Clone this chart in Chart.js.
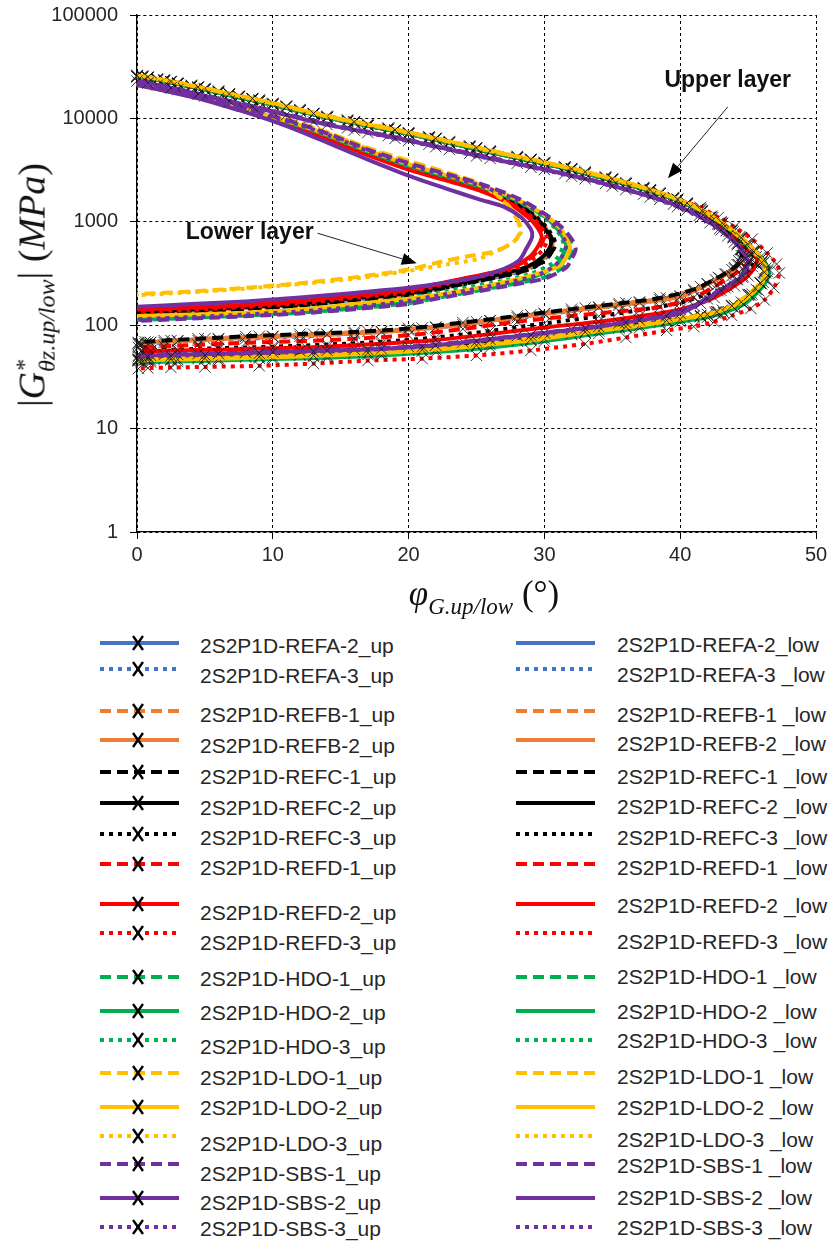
<!DOCTYPE html>
<html lang="en">
<head>
<meta charset="UTF-8">
<title>2S2P1D – upper and lower layer in Black space</title>
<script src="https://cdn.jsdelivr.net/npm/chart.js"></script>
<style>
  body { margin: 0; background: #fff; width: 834px; height: 1243px; position: relative; overflow: hidden;
         font-family: 'Liberation Sans', Arial, sans-serif; }
  #chartBox { position: absolute; left: 0; top: 0; width: 834px; height: 580px; }
  /* axis titles (math style) */
  .ytitle { position: absolute; left: 34px; top: 285px; transform: translate(-50%, -50%) rotate(-90deg);
            white-space: nowrap; font-family: 'Liberation Serif', serif; font-size: 38px; color: #111; }
  .ytitle .stack { display: inline-block; vertical-align: -0.42em; line-height: 0.95; font-size: 24px; font-style: italic; }
  .ytitle .stack span { display: block; }
  .xtitle { position: absolute; left: 484px; top: 597px; transform: translate(-50%, -50%);
            white-space: nowrap; font-family: 'Liberation Serif', serif; font-size: 35px; color: #111; }
  .xtitle sub { font-size: 23px; font-style: italic; vertical-align: -0.35em; }
  /* legend */
  .leg-line { position: absolute; }
  .leg-text { position: absolute; font-size: 21px; color: #262626; line-height: 24px; white-space: nowrap; transform: translateY(-50%); }
</style>
</head>
<body>

<div id="chartBox"><canvas id="blackSpace" width="834" height="580"></canvas></div>

<div class="ytitle">|<i>G</i><span class="stack"><span>*</span><span>θz.up/low</span></span>| (<i>MPa</i>)</div>
<div class="xtitle"><i>φ</i><sub>G.up/low</sub> (°)</div>

<div id="legend"></div>

<script>
// ---- data: [phase angle (°), |G*| (MPa)] ----
// upper layer (with markers)
const refA2Up = [[0,25500],[1.5,23600],[3,21600],[5,19000],[7.5,16000],[10,13600],[14,10200],[17,8500],[20,7100],[23,5800],[26,4700],[30,3650],[33,2950],[36,2320],[38.5,1850],[40.5,1480],[42.2,1100],[43.4,820],[44.2,620],[44.5,470],[44.2,385],[43.3,312],[42,252],[40,192],[37,168],[34,150],[30,130],[26,111],[22,96],[18,87],[14,82],[10,78],[6,74],[3,71],[1,68],[0.3,66]];
const refA3Up = [[0.4,24900],[2,22800],[4,20200],[6,17700],[9,14500],[12,11750],[15.5,9300],[18.5,7800],[21.5,6400],[24.5,5230],[28,4130],[31.5,3280],[34.5,2620],[37.3,2070],[39.5,1660],[41.3,1300],[42.8,950],[43.9,700],[44.4,540],[44.3,420],[43.8,345],[42.6,275],[41,215],[38.5,176],[35.5,156],[32,137],[28,118],[24,101],[20,90],[16,83],[12,78],[8,74],[4.5,71],[2,68],[0.6,66],[0.1,65]];
const refB1Up = [[0.8,24800],[2.5,22500],[4.5,19900],[6.8,17100],[8.5,15400],[11,13000],[13,11050],[16,9150],[19,7650],[22,6320],[25,5120],[29,3960],[32,3200],[35,2540],[37.8,1990],[39.8,1610],[41.6,1250],[42.9,940],[43.9,720],[44.5,540],[44.6,430],[44,350],[42.9,285],[41.5,236],[39,183],[36,164],[33,147],[29,126],[25,108],[21,94],[17,87],[13,82],[9,78],[5,74],[2.5,71],[0.8,68.5],[0.1,67]];
const refB2Up = [[0,25600],[1.5,23700],[3,21700],[5,19100],[7.5,16100],[10,13700],[14,10250],[17,8550],[20,7150],[23,5850],[26,4750],[30,3680],[33,2960],[36,2330],[38.5,1860],[40.5,1485],[42.2,1105],[43.4,825],[44.3,625],[44.6,470],[44.3,385],[43.4,313],[42,250],[40,188],[37,165],[34,148],[30,128],[26,110],[22,95],[18,86],[14,81],[10,77],[6,73],[3,70],[1,68],[0.3,66]];
const refC1Up = [[0.4,25500],[2,23400],[4,20800],[6,18200],[9,14900],[12,12100],[15.5,9550],[18.5,8000],[21.5,6600],[24.5,5380],[28,4250],[31.5,3370],[34.5,2690],[37.3,2120],[39.5,1700],[41.3,1320],[42.8,970],[43.9,720],[44.5,550],[44.5,430],[44,360],[42.8,290],[41,222],[38.5,183],[35.5,162],[32,143],[28,123],[24,106],[20,93],[16,86],[12,82],[8,78],[4.5,74],[2,71],[0.6,69],[0.1,68]];
const refC2Up = [[0.8,24800],[2.5,22500],[4.5,19850],[6.8,17050],[8.5,15300],[11,12900],[13,11000],[16,9100],[19,7600],[22,6300],[25,5100],[29,3950],[32,3200],[35,2550],[37.8,2000],[39.8,1620],[41.6,1260],[43.1,960],[44.5,700],[45.5,520],[46.2,410],[46.4,330],[46.1,260],[45.3,200],[44,155],[42.8,135],[41.5,123],[39,110],[36,97],[33,86],[29,73],[25,65],[21,59],[17,55],[13,52],[9,50],[5,48.5],[2.5,47.5],[0.8,47],[0.1,46.5]];
const refC3Up = [[0,25400],[1.5,23500],[3,21500],[5,18950],[7.5,16000],[10,13600],[14,10150],[17,8500],[20,7100],[23,5800],[26,4720],[30,3640],[33,2940],[36,2310],[38.5,1850],[40.5,1470],[42.2,1090],[43.6,810],[44.8,600],[45.4,460],[45.3,370],[44.6,290],[43.5,235],[42,200],[40,165],[37,140],[34,122],[30,104],[26,88],[22,76],[18,69],[14,65],[10,62],[6,60],[3,58],[1,57],[0.3,56]];
const refD1Up = [[0.4,25000],[2,22900],[4,20300],[6,17800],[9,14600],[12,11800],[15.5,9350],[18.5,7820],[21.5,6430],[24.5,5250],[28,4150],[31.5,3290],[34.5,2630],[37.3,2080],[39.5,1670],[41.3,1310],[42.9,960],[44.1,710],[44.9,540],[45.2,440],[44.7,365],[43.8,300],[42.7,245],[41,185],[38.5,150],[35.5,136],[32,123],[28,108],[24,92],[20,80],[16,74],[12,70],[8,67.5],[4.5,64.5],[2,62.5],[0.6,61.5],[0.1,61]];
const refD2Up = [[0,25600],[1.5,23700],[3,21700],[5,19100],[7.5,16100],[10,13700],[14,10250],[17,8550],[20,7150],[23,5850],[26,4760],[30,3680],[33,2970],[36,2330],[38.5,1860],[40.5,1490],[42.3,1110],[43.8,815],[45,600],[45.6,460],[45.6,390],[45,300],[44,240],[42.5,185],[40,142],[37,122],[34,108],[30,95],[26,82],[22,72],[18,66],[14,62],[10,60],[6,58],[3,57],[1,56],[0.3,56]];
const refD3Up = [[0.8,24900],[2.5,22600],[4.5,20000],[6.8,17200],[8.5,15500],[11,13100],[13,11150],[16,9250],[19,7700],[22,6400],[25,5200],[29,4020],[32,3270],[35,2600],[37.8,2050],[39.8,1650],[41.5,1380],[42.8,1100],[44,890],[45.3,680],[46.4,500],[47.1,390],[47.3,320],[46.9,230],[46.2,175],[45.2,145],[43.8,124],[42.5,108],[41,97],[39,89],[36,76],[33,66],[29,57],[25,51],[21,47.5],[17,45.5],[13,42.5],[9,40.5],[5,39.5],[2.5,39],[0.8,38.5],[0.1,38]];
const hdo1Up = [[0.4,25100],[2,23000],[4,20400],[6,17900],[9,14600],[12,11850],[15.5,9350],[18.5,7850],[21.5,6450],[24.5,5270],[28,4170],[31.5,3310],[34.5,2640],[37.3,2090],[39.5,1680],[41.5,1300],[43,980],[44.4,700],[45.4,520],[46,410],[46.2,330],[45.9,255],[45,195],[43.8,152],[42.6,131],[41,120],[38.5,106],[35.5,94],[32,81],[28,70],[24,62],[20,57],[16,53],[12,51],[8,49],[4.5,47.5],[2,46.7],[0.6,46.2],[0.1,46]];
const hdo2Up = [[0,25500],[1.5,23600],[3,21600],[5,19000],[7.5,16000],[10,13600],[14,10200],[17,8500],[20,7100],[23,5820],[26,4730],[30,3660],[33,2960],[36,2330],[38.5,1860],[40.5,1480],[42.4,1100],[43.9,800],[45.1,590],[46,445],[46.5,350],[46.4,275],[45.8,215],[44.7,160],[43.2,132],[42,119],[40,108],[37,94],[34,83],[30,70],[26,61],[22,55],[18,51],[14,48.5],[10,47],[6,45.5],[3,44.5],[1,44],[0.3,43.5]];
const hdo3Up = [[0.8,24700],[2.5,22400],[4.5,19800],[6.8,17000],[8.5,15300],[11,12900],[13,11000],[16,9100],[19,7600],[22,6300],[25,5100],[29,3950],[32,3200],[35,2550],[37.8,2000],[39.8,1620],[41.6,1260],[43.1,960],[44.5,690],[45.5,510],[46.1,400],[46.3,320],[46,250],[45.2,195],[43.9,150],[42.8,132],[41.5,121],[39,108],[36,95],[33,84],[29,71],[25,62.5],[21,56],[17,52],[13,49.5],[9,48],[5,46.8],[2.5,45.9],[0.8,45.3],[0.1,45]];
const ldo1Up = [[0.4,25700],[2,23600],[4,20900],[6,18400],[9,15100],[12,12200],[15.5,9650],[18.5,8080],[21.5,6650],[24.5,5420],[28,4290],[31.5,3400],[34.5,2720],[37.3,2150],[39.5,1720],[41.5,1330],[43,1000],[44.4,720],[45.4,530],[46,415],[46.2,335],[45.9,258],[45,198],[43.8,155],[42.6,134],[41,123],[38.5,109],[35.5,96],[32,83],[28,71],[24,63],[20,58],[16,54.5],[12,52],[8,50],[4.5,48.5],[2,47.8],[0.6,47.2],[0.1,47]];
const ldo2Up = [[0,26000],[1.5,24100],[3,22100],[5,19500],[7.5,16500],[10,14000],[14,10500],[17,8750],[20,7300],[23,5980],[26,4860],[30,3760],[33,3050],[36,2400],[38.5,1910],[40.5,1520],[42.3,1130],[43.8,830],[45,605],[45.9,455],[46.3,355],[46.2,280],[45.6,222],[44.5,167],[43.1,140],[42,127],[40,114],[37,99],[34,88],[30,74],[26,65],[22,58],[18,54],[14,51],[10,49],[6,47.5],[3,46.5],[1,46],[0.3,45.5]];
const ldo3Up = [[0.8,25100],[2.5,22750],[4.5,20100],[6.8,17250],[8.5,15550],[11,13100],[13,11150],[16,9250],[19,7720],[22,6400],[25,5180],[29,4010],[32,3250],[35,2590],[37.8,2030],[39.8,1650],[41.6,1280],[43.1,970],[44.5,700],[45.4,515],[46,405],[46.2,325],[45.9,255],[45.1,198],[43.8,154],[42.7,135],[41.5,124],[39,111],[36,97],[33,86],[29,73],[25,64],[21,58],[17,54],[13,51],[9,49.5],[5,48],[2.5,47],[0.8,46.4],[0.1,46]];
const sbs1Up = [[0.4,22800],[2,20600],[4,18000],[6,15600],[9,12700],[12,10200],[15.5,8100],[18.5,6800],[21.5,5620],[24.5,4600],[28,3680],[31.5,2920],[34.5,2350],[37.3,1850],[39.5,1480],[41.4,1150],[42.9,860],[44,640],[44.8,470],[44.9,360],[44.2,280],[42.8,215],[41,155],[38.5,122],[35.5,105],[32,91],[28,79],[24,69],[20,62],[16,58.5],[12,56.5],[8,54.5],[4.5,53],[2,52],[0.6,51.3],[0.1,51]];
const sbs2Up = [[0,23000],[1.5,21000],[3,19000],[5,16500],[7.5,13800],[10,11600],[14,8700],[17,7300],[20,6100],[23,5000],[26,4100],[30,3200],[33,2600],[36,2050],[38.5,1650],[40.5,1300],[42.2,980],[43.5,730],[44.5,540],[45,400],[44.6,300],[43.3,230],[42,180],[40,130],[37,112],[34,97],[30,84],[26,73],[22,64],[18,59],[14,57],[10,55],[6,53],[3,52],[1,51],[0.3,50]];
const sbs3Up = [[0.8,22000],[2.5,19700],[4.5,17150],[6.8,14700],[8.5,13100],[11,10850],[13,9250],[16,7700],[19,6400],[22,5320],[25,4330],[29,3380],[32,2760],[35,2210],[37.8,1740],[39.8,1400],[41.5,1100],[43,830],[44.2,600],[44.8,445],[44.8,365],[44.2,275],[43,217],[41.5,162],[39,123],[36,106],[33,93],[29,80],[25,70],[21,62],[17,58],[13,55.5],[9,53.5],[5,51.5],[2.5,50.5],[0.8,49.8],[0.1,49.5]];

// lower layer (no markers)
const refA2Low = [[0,21400],[2,18900],[5,15400],[7.5,12400],[10,9900],[12,8200],[14.2,6400],[17,4600],[20,3350],[23,2580],[25.2,2100],[28,1490],[29.5,1060],[30.3,790],[30.6,630],[30.3,500],[29.5,400],[28.4,343],[26.9,305],[24,255],[20,200],[16,178],[12,158],[8,147],[4,139],[0,133]];
const refA3Low = [[0,21450],[2,18950],[5,15450],[7.5,12450],[10,9950],[12,8250],[14.2,6450],[17,4620],[20,3360],[23,2590],[25.2,2110],[28,1495],[29.5,1055],[30.3,785],[30.7,615],[30.4,490],[29.6,395],[28.5,338],[27,302],[24,252],[20,198],[16,176],[12,157],[8,146],[4,138],[0,132]];
const refB1Low = [[0,21350],[2,18850],[5,15350],[7.5,12350],[10,9850],[12,8150],[14.2,6350],[17,4560],[20,3320],[23,2560],[25.2,2080],[28,1480],[29.4,1070],[30.2,800],[30.5,640],[30.2,505],[29.4,405],[28.3,346],[26.8,308],[24,258],[20,202],[16,180],[12,160],[8,148],[4,140],[0,134]];
const refB2Low = [[0,21400],[2,18900],[5,15400],[7.5,12400],[10,9900],[12,8200],[14.2,6400],[17,4590],[20,3340],[23,2570],[25.2,2090],[28,1485],[29.5,1065],[30.3,795],[30.6,632],[30.3,502],[29.5,402],[28.4,344],[26.9,306],[24,256],[20,201],[16,179],[12,159],[8,147],[4,139],[0,133]];
const refC1Low = [[0,21500],[2,19000],[5,15500],[7.5,12500],[10,10000],[12,8300],[14.2,6500],[17,4650],[20,3380],[23,2600],[25.2,2120],[28,1500],[29.5,1050],[30.3,780],[30.7,600],[30.4,480],[29.6,390],[28.5,335],[27,300],[24,250],[20,196],[16,175],[12,155],[8,145],[4,137],[0,131]];
const refC2Low = [[0,21400],[2,18900],[5,15400],[7.5,12400],[10,9900],[12,8200],[14.2,6400],[17,4580],[20,3330],[23,2560],[25.2,2090],[28,1480],[29.4,1060],[30.2,800],[30.5,640],[30.2,510],[29.4,410],[28.3,350],[26.8,312],[24,262],[20,205],[16,182],[12,162],[8,150],[4,142],[0,136]];
const refC3Low = [[0,21500],[2,19000],[5,15500],[7.5,12500],[10,10000],[12,8300],[14.2,6500],[17,4650],[20,3380],[23,2600],[25.2,2130],[28,1510],[29.6,1060],[30.4,800],[30.8,620],[30.5,495],[29.8,400],[28.7,340],[27.2,303],[24.2,252],[20,198],[16,176],[12,156],[8,144],[4,135],[0,128]];
const refD1Low = [[0,21300],[2,18800],[5,15300],[7.5,12300],[10,9800],[12,8100],[14.2,6300],[17,4500],[20,3250],[23,2500],[25.2,2050],[27.5,1500],[28.8,1150],[29.4,980],[29.9,800],[30,720],[29.7,580],[29.1,460],[28,380],[26.5,330],[24,280],[20,218],[16,190],[12,168],[8,155],[4,146],[0,140]];
const refD2Low = [[0,21200],[2,18700],[5,15200],[7.5,12200],[10,9700],[12,8000],[14.2,6200],[17,4420],[20,3200],[23,2460],[25.2,2010],[27.5,1480],[28.7,1130],[29.3,950],[29.7,790],[29.8,700],[29.5,570],[28.9,455],[27.8,375],[26.3,326],[24,282],[20,222],[16,194],[12,172],[8,158],[4,149],[0,142]];
const refD3Low = [[0,21300],[2,18800],[5,15300],[7.5,12300],[10,9800],[12,8100],[14.2,6300],[17,4500],[20,3260],[23,2510],[25.2,2060],[27.8,1480],[29.2,1080],[29.9,830],[30.2,680],[29.9,545],[29.2,440],[28.2,370],[26.7,324],[24,272],[20,210],[16,184],[12,163],[8,150],[4,141],[0,135]];
const hdo1Low = [[0,21900],[2,19400],[5,15900],[7.5,12900],[10,10400],[12,8700],[14.2,6900],[17,4950],[20,3650],[23,2820],[25.2,2320],[28,1680],[30,1190],[31.2,870],[31.9,650],[32.1,545],[31.8,445],[31.4,365],[30,290],[28,255],[26.8,238],[24.4,208],[22,183],[20,163],[16,145],[12,132],[8,124],[4,118],[0,112]];
const hdo2Low = [[0,21700],[2,19200],[5,15700],[7.5,12700],[10,10200],[12,8500],[14.2,6700],[17,4800],[20,3500],[23,2700],[25.2,2220],[28,1600],[30,1130],[31,840],[31.5,650],[31.6,575],[31.3,460],[30.8,375],[29.4,300],[27.4,258],[25,222],[22,190],[20,170],[16,148],[12,134],[8,125],[4,119],[0,115]];
const hdo3Low = [[0,21600],[2,19100],[5,15600],[7.5,12600],[10,10100],[12,8400],[14.2,6650],[17,4750],[20,3450],[23,2680],[25.2,2200],[28,1580],[30,1100],[30.9,830],[31.3,680],[31.4,600],[31.1,480],[30.5,390],[29,315],[27,270],[24.5,235],[22,205],[20,185],[16,160],[12,142],[8,131],[4,124],[0,118]];
const ldo1Low = [[0,22200],[2,19700],[5,16200],[7.5,13200],[10,10700],[12,9000],[14.2,7200],[17,5200],[20,3900],[23,2950],[25.2,2350],[26.8,1700],[27.7,1250],[28.1,980],[28.2,800],[27.8,650],[27,560],[26,505],[24.2,460],[22,400],[20,345],[16,290],[12,255],[8,230],[4,212],[0,200]];
const ldo2Low = [[0,21800],[2,19300],[5,15800],[7.5,12800],[10,10300],[12,8600],[14.2,6850],[17,4900],[20,3600],[23,2780],[25.2,2280],[28,1650],[30,1170],[31.2,860],[31.7,660],[31.9,560],[31.6,450],[31.2,380],[30,330],[28.5,290],[27,260],[24,215],[20,180],[16,160],[12,142],[8,132],[4,127],[0,123]];
const ldo3Low = [[0,22100],[2,19600],[5,16100],[7.5,13100],[10,10600],[12,8900],[14.2,7100],[17,5100],[20,3800],[23,2900],[25.2,2300],[26.8,1680],[27.6,1250],[28.1,1000],[28.3,830],[28,690],[27.2,580],[26.2,500],[25.2,440],[23,390],[20,335],[16,282],[12,250],[8,226],[4,208],[0,195]];
const sbs1Low = [[0,22000],[2,19500],[5,16000],[7.5,13000],[10,10500],[12,8800],[14.2,7000],[17,5000],[20,3700],[23,2850],[25.2,2350],[28,1700],[30,1200],[31.3,880],[32.1,650],[32.3,540],[32,440],[31.6,360],[30.1,285],[28,250],[26.9,235],[24.4,205],[22,180],[20,160],[16,143],[12,130],[8,122],[4,116],[0,110]];
const sbs2Low = [[0,21000],[2,18500],[5,15000],[7.5,12000],[10,9400],[12,7500],[14.2,5700],[17,4000],[20,2800],[23,2050],[25.2,1650],[27,1400],[28.3,1100],[29,850],[29.1,720],[28.7,560],[28.1,420],[26.5,330],[24.4,280],[22,250],[20,230],[16,205],[12,185],[8,170],[4,160],[0,151]];
const sbs3Low = [[0,21800],[2,19300],[5,15800],[7.5,12800],[10,10300],[12,8600],[14.2,6800],[17,4850],[20,3550],[23,2750],[25.2,2250],[28,1620],[30,1150],[31,850],[31.5,660],[31.6,575],[31.3,465],[30.8,380],[29.5,305],[27.5,262],[25,225],[22,192],[20,172],[16,150],[12,136],[8,127],[4,120],[0,114]];

const upSeries  = [refA2Up, refA3Up, refB1Up, refB2Up, refC1Up, refC2Up, refC3Up, refD1Up, refD2Up, refD3Up,
                   hdo1Up, hdo2Up, hdo3Up, ldo1Up, ldo2Up, ldo3Up, sbs1Up, sbs2Up, sbs3Up];
const lowSeries = [refA2Low, refA3Low, refB1Low, refB2Low, refC1Low, refC2Low, refC3Low, refD1Low, refD2Low, refD3Low,
                   hdo1Low, hdo2Low, hdo3Low, ldo1Low, ldo2Low, ldo3Low, sbs1Low, sbs2Low, sbs3Low];

const upLabels = ['2S2P1D-REFA-2_up','2S2P1D-REFA-3_up','2S2P1D-REFB-1_up','2S2P1D-REFB-2_up','2S2P1D-REFC-1_up',
  '2S2P1D-REFC-2_up','2S2P1D-REFC-3_up','2S2P1D-REFD-1_up','2S2P1D-REFD-2_up','2S2P1D-REFD-3_up','2S2P1D-HDO-1_up',
  '2S2P1D-HDO-2_up','2S2P1D-HDO-3_up','2S2P1D-LDO-1_up','2S2P1D-LDO-2_up','2S2P1D-LDO-3_up','2S2P1D-SBS-1_up',
  '2S2P1D-SBS-2_up','2S2P1D-SBS-3_up'];
const lowLabels = ['2S2P1D-REFA-2_low','2S2P1D-REFA-3 _low','2S2P1D-REFB-1 _low','2S2P1D-REFB-2 _low','2S2P1D-REFC-1 _low',
  '2S2P1D-REFC-2 _low','2S2P1D-REFC-3 _low','2S2P1D-REFD-1 _low','2S2P1D-REFD-2 _low','2S2P1D-REFD-3 _low','2S2P1D-HDO-1 _low',
  '2S2P1D-HDO-2 _low','2S2P1D-HDO-3 _low','2S2P1D-LDO-1 _low','2S2P1D-LDO-2 _low','2S2P1D-LDO-3 _low','2S2P1D-SBS-1 _low',
  '2S2P1D-SBS-2 _low','2S2P1D-SBS-3 _low'];

const xTickStep = 10;
const yTickValues = [1, 10, 100, 1000, 10000, 100000];

// ---- styles ----
const BLUE = '#4472C4', ORANGE = '#ED7D31', BLACK = '#000000', RED = '#FF0000',
      GREEN = '#00B050', YELLOW = '#FFC000', PURPLE = '#7030A0';
const seriesColors = [BLUE, BLUE, ORANGE, ORANGE, BLACK, BLACK, BLACK, RED, RED, RED,
                      GREEN, GREEN, GREEN, YELLOW, YELLOW, YELLOW, PURPLE, PURPLE, PURPLE];
const seriesStyles = ['solid','dotted','dashed','solid','dashed','solid','dotted','dashed','solid','dotted',
                      'dashed','solid','dotted','dashed','solid','dotted','dashed','solid','dotted'];
const dashPatterns = { solid: [], dashed: [11, 6], dotted: [4, 5] };

// legend row positions (px)
const legendLineY  = [643, 669, 711, 740, 772, 803, 834, 864, 904, 933, 977, 1011, 1040, 1073, 1107, 1136, 1164, 1198, 1227];
const legendTextY  = [646, 676, 715, 746, 777, 808, 838, 868, 913, 943, 979, 1013, 1047, 1078, 1108, 1144, 1174, 1203, 1229];
const rightTextY   = [645, 675, 715, 744, 777, 807, 838, 868, 906, 942, 977, 1012, 1041, 1077, 1108, 1140, 1166, 1198, 1228];

// annotation text and arrows, in data units
const layerNotes = [
  { text: 'Upper layer', at: [43.5, 23000], tail: [43.5, 12900], head: [39.1, 2640] },
  { text: 'Lower layer', at: [8.3, 780], tail: [13.3, 775], head: [20.6, 397] }
];

// ---- datasets (later entries drawn on top) ----
const datasets = [];
upSeries.forEach((d, i) => {
  const base = { showLine: true, fill: false, borderWidth: 4, tension: 0.3,
                 borderColor: seriesColors[i], backgroundColor: seriesColors[i],
                 borderDash: dashPatterns[seriesStyles[i]], clip: 10 };
  datasets.push(Object.assign({}, base, {
    label: upLabels[i], data: d,
    pointStyle: 'crossRot', pointRadius: 8, pointBorderWidth: 1,
    pointBorderColor: 'rgba(20,20,20,0.85)', pointBackgroundColor: 'rgba(20,20,20,0.85)'
  }));
  datasets.push(Object.assign({}, base, {
    label: lowLabels[i], data: lowSeries[i], pointRadius: 0
  }));
});
datasets.forEach((ds, k) => { ds.order = datasets.length - k; });

// arrows + labels
const layerNotesPlugin = {
  id: 'layerNotes',
  afterDatasetsDraw(chart) {
    const { ctx, scales: { x, y } } = chart;
    ctx.save();
    layerNotes.forEach(n => {
      const tx = x.getPixelForValue(n.at[0]), ty = y.getPixelForValue(n.at[1]);
      const x1 = x.getPixelForValue(n.tail[0]), y1 = y.getPixelForValue(n.tail[1]);
      const x2 = x.getPixelForValue(n.head[0]), y2 = y.getPixelForValue(n.head[1]);
      ctx.font = 'bold 23px "Liberation Sans", Arial, sans-serif';
      ctx.fillStyle = '#111';
      ctx.textAlign = 'center';
      ctx.textBaseline = 'middle';
      ctx.fillText(n.text, tx, ty);
      const ang = Math.atan2(y2 - y1, x2 - x1);
      const hl = 15, hw = 6;
      ctx.strokeStyle = '#222';
      ctx.lineWidth = 1;
      ctx.beginPath();
      ctx.moveTo(x1, y1);
      ctx.lineTo(x2 - hl * Math.cos(ang), y2 - hl * Math.sin(ang));
      ctx.stroke();
      ctx.fillStyle = '#000';
      ctx.beginPath();
      ctx.moveTo(x2, y2);
      ctx.lineTo(x2 - hl * Math.cos(ang) + hw * Math.sin(ang), y2 - hl * Math.sin(ang) - hw * Math.cos(ang));
      ctx.lineTo(x2 - hl * Math.cos(ang) - hw * Math.sin(ang), y2 - hl * Math.sin(ang) + hw * Math.cos(ang));
      ctx.closePath();
      ctx.fill();
    });
    ctx.restore();
  }
};

const tickFont = { family: "'Liberation Sans', Arial, sans-serif", size: 20 };
const gridOpts = { color: '#000', lineWidth: 1, tickLength: 7, tickColor: '#000', tickWidth: 1 };

new Chart(document.getElementById('blackSpace'), {
  type: 'scatter',
  data: { datasets },
  options: {
    responsive: false,
    animation: false,
    events: [],
    layout: { padding: { top: 15, right: 18, left: 0, bottom: 0 } },
    plugins: { legend: { display: false }, tooltip: { enabled: false } },
    scales: {
      x: {
        type: 'linear', min: 0, max: 50,
        ticks: { stepSize: xTickStep, color: '#262626', font: tickFont, padding: 4, maxRotation: 0 },
        grid: gridOpts,
        border: { display: true, color: '#000', width: 1.3, dash: [3, 3] },
        afterFit: s => { s.height = 48; }
      },
      y: {
        type: 'logarithmic', min: 1, max: 100000,
        afterBuildTicks: s => { s.ticks = yTickValues.map(v => ({ value: v })); },
        ticks: { color: '#262626', font: tickFont, padding: 12, callback: v => String(v) },
        grid: gridOpts,
        border: { display: true, color: '#000', width: 1.3, dash: [3, 3] },
        afterFit: s => { s.width = 137; s.paddingTop = 0; s.paddingBottom = 0; }
      }
    }
  },
  plugins: [layerNotesPlugin]
});

// ---- legend (two columns: _up left, _low right) ----
const legendBox = document.getElementById('legend');
function sampleSvg(color, style, withX) {
  const dash = dashPatterns[style].join(' ');
  let s = '<svg width="80" height="20" xmlns="http://www.w3.org/2000/svg">' +
          '<line x1="0" y1="10" x2="79" y2="10" stroke="' + color + '" stroke-width="4"' +
          (dash ? ' stroke-dasharray="' + dash + '"' : '') + '/>';
  if (withX) {
    s += '<path d="M33 3 L43 17 M43 3 L33 17" stroke="#000" stroke-width="2.4" fill="none"/>';
  }
  return s + '</svg>';
}
upLabels.forEach((lab, i) => {
  const l = document.createElement('div');
  l.className = 'leg-line';
  l.style.left = '100px'; l.style.top = (legendLineY[i] - 10) + 'px';
  l.innerHTML = sampleSvg(seriesColors[i], seriesStyles[i], true);
  legendBox.appendChild(l);
  const t = document.createElement('div');
  t.className = 'leg-text';
  t.style.left = '200px'; t.style.top = legendTextY[i] + 'px';
  t.textContent = lab;
  legendBox.appendChild(t);

  const r = document.createElement('div');
  r.className = 'leg-line';
  r.style.left = '516px'; r.style.top = (legendLineY[i] - 10) + 'px';
  r.innerHTML = sampleSvg(seriesColors[i], seriesStyles[i], false);
  legendBox.appendChild(r);
  const rt = document.createElement('div');
  rt.className = 'leg-text';
  rt.style.left = '617px'; rt.style.top = rightTextY[i] + 'px';
  rt.textContent = lowLabels[i];
  legendBox.appendChild(rt);
});
</script>
</body>
</html>
